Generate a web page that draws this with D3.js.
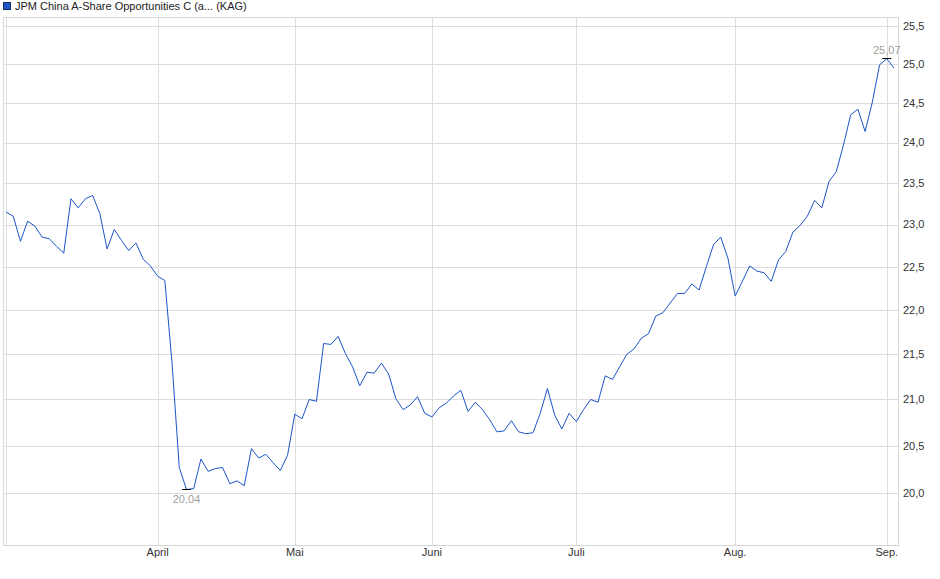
<!DOCTYPE html>
<html>
<head>
<meta charset="utf-8">
<script src="https://cdn.jsdelivr.net/npm/d3@7"></script>
<style>
  body { margin: 0; background: #fff; }
  svg { display: block; font-family: "Liberation Sans", Arial, sans-serif; }
</style>
</head>
<body>
<div id="container"></div>
<script>
// fund prices, one per trading day (März..Anfang Sep.)
const values = [
  23.15, 23.10, 22.80, 23.04, 22.98, 22.85, 22.83, 22.74, 22.66, 23.31,
  23.20, 23.31, 23.35, 23.13, 22.71, 22.94, 22.81, 22.69, 22.78, 22.59,
  22.51, 22.39, 22.34, 21.40, 20.27, 20.04, 20.05, 20.36, 20.23, 20.26,
  20.27, 20.10, 20.13, 20.08, 20.47, 20.37, 20.41, 20.32, 20.24, 20.40,
  20.84, 20.79, 21.00, 20.98, 21.62, 21.61, 21.70, 21.51, 21.36, 21.15,
  21.30, 21.29, 21.40, 21.28, 21.01, 20.89, 20.94, 21.03, 20.85, 20.81,
  20.91, 20.96, 21.04, 21.10, 20.87, 20.97, 20.89, 20.78, 20.65, 20.66,
  20.77, 20.65, 20.63, 20.64, 20.85, 21.12, 20.83, 20.68, 20.85, 20.76,
  20.89, 21.00, 20.97, 21.26, 21.22, 21.36, 21.50, 21.56, 21.68, 21.73,
  21.93, 21.97, 22.08, 22.19, 22.19, 22.30, 22.23, 22.50, 22.76, 22.85,
  22.60, 22.16, 22.33, 22.51, 22.45, 22.43, 22.33, 22.58, 22.68, 22.91,
  22.99, 23.10, 23.29, 23.20, 23.52, 23.64, 23.97, 24.35, 24.42, 24.14,
  24.51, 24.99, 25.07, 24.95
]

// month starts (index into values) and labels
const monthIdx = [0, 21, 40, 59, 79, 101, 122]
const monthLabels = ["", "April", "Mai", "Juni", "Juli", "Aug.", "Sep."]

const yTicks = [20.0, 20.5, 21.0, 21.5, 22.0, 22.5, 23.0, 23.5, 24.0, 24.5, 25.0, 25.5]

const title = "JPM China A-Share Opportunities C (a... (KAG)"

let width = 940
let height = 579
let frame = {left: 3, right: 898, top: 17, bottom: 545}
let lineColor = "#1c55c8"
let fmt = v => d3.format(".1f")(v).replace(".", ",")
let fmt2 = v => d3.format(".2f")(v).replace(".", ",")

let svg = d3.select("#container")
    .append("svg")
    .attr("width", width)
    .attr("height", height)

let x = d3.scaleLinear()
    .domain([0, values.length - 1])
    .range([6, 894])

let y = d3.scaleLog()
    .domain([19.47, 25.62])
    .range([frame.bottom, frame.top])

// horizontal grid
svg.append("g")
    .attr("stroke", "#dddddd")
    .attr("shape-rendering", "crispEdges")
    .selectAll("line")
    .data(yTicks)
    .join("line")
        .attr("x1", frame.left)
        .attr("x2", frame.right)
        .attr("y1", d => Math.round(y(d)) + 0.5)
        .attr("y2", d => Math.round(y(d)) + 0.5)

// vertical grid at month starts
svg.append("g")
    .attr("stroke", "#dddddd")
    .attr("shape-rendering", "crispEdges")
    .selectAll("line")
    .data(monthIdx)
    .join("line")
        .attr("x1", d => Math.round(x(d)) + 0.5)
        .attr("x2", d => Math.round(x(d)) + 0.5)
        .attr("y1", frame.top)
        .attr("y2", frame.bottom)

// frame
svg.append("rect")
    .attr("x", frame.left + 0.5)
    .attr("y", frame.top + 0.5)
    .attr("width", frame.right - frame.left)
    .attr("height", frame.bottom - frame.top)
    .attr("fill", "none")
    .attr("stroke", "#d6d6d6")
    .attr("shape-rendering", "crispEdges")

// y labels on the right
svg.append("g")
    .selectAll("text")
    .data(yTicks)
    .join("text")
        .attr("x", frame.right + 5)
        .attr("y", d => y(d))
        .attr("dy", "0.35em")
        .attr("font-size", 11)
        .attr("fill", "#333")
        .text(fmt)

// x labels
svg.append("g")
    .selectAll("text")
    .data(monthIdx.filter((d, i) => monthLabels[i] !== ""))
    .join("text")
        .attr("x", d => x(d))
        .attr("y", frame.bottom + 11)
        .attr("text-anchor", "middle")
        .attr("font-size", 11)
        .attr("fill", "#333")
        .text(d => monthLabels[monthIdx.indexOf(d)])

// price line
svg.append("path")
    .datum(values)
    .attr("fill", "none")
    .attr("stroke", lineColor)
    .attr("stroke-width", 1)
    .attr("d", d3.line()
        .x((d, i) => x(i))
        .y(d => y(d)))

// min / max markers
let iMax = d3.maxIndex(values)
let iMin = d3.minIndex(values)

svg.append("line")
    .attr("x1", x(iMax) - 4.5).attr("x2", x(iMax) + 4.5)
    .attr("y1", Math.round(y(values[iMax])) - 0.5)
    .attr("y2", Math.round(y(values[iMax])) - 0.5)
    .attr("stroke", "#000")
svg.append("text")
    .attr("x", x(iMax))
    .attr("y", y(values[iMax]) - 5)
    .attr("text-anchor", "middle")
    .attr("font-size", 11)
    .attr("fill", "#a0a0a0")
    .text(fmt2(values[iMax]))

svg.append("line")
    .attr("x1", x(iMin) - 4.5).attr("x2", x(iMin) + 4.5)
    .attr("y1", Math.round(y(values[iMin])) + 0.5)
    .attr("y2", Math.round(y(values[iMin])) + 0.5)
    .attr("stroke", "#000")
svg.append("text")
    .attr("x", x(iMin))
    .attr("y", y(values[iMin]) + 14)
    .attr("text-anchor", "middle")
    .attr("font-size", 11)
    .attr("fill", "#a0a0a0")
    .text(fmt2(values[iMin]))

// legend
svg.append("rect")
    .attr("x", 3.5).attr("y", 2.5)
    .attr("width", 7).attr("height", 7)
    .attr("fill", lineColor)
    .attr("stroke", "#1a2f6a")
svg.append("text")
    .attr("x", 15)
    .attr("y", 10)
    .attr("font-size", 11)
    .attr("fill", "#222")
    .text(title)
</script>
</body>
</html>
